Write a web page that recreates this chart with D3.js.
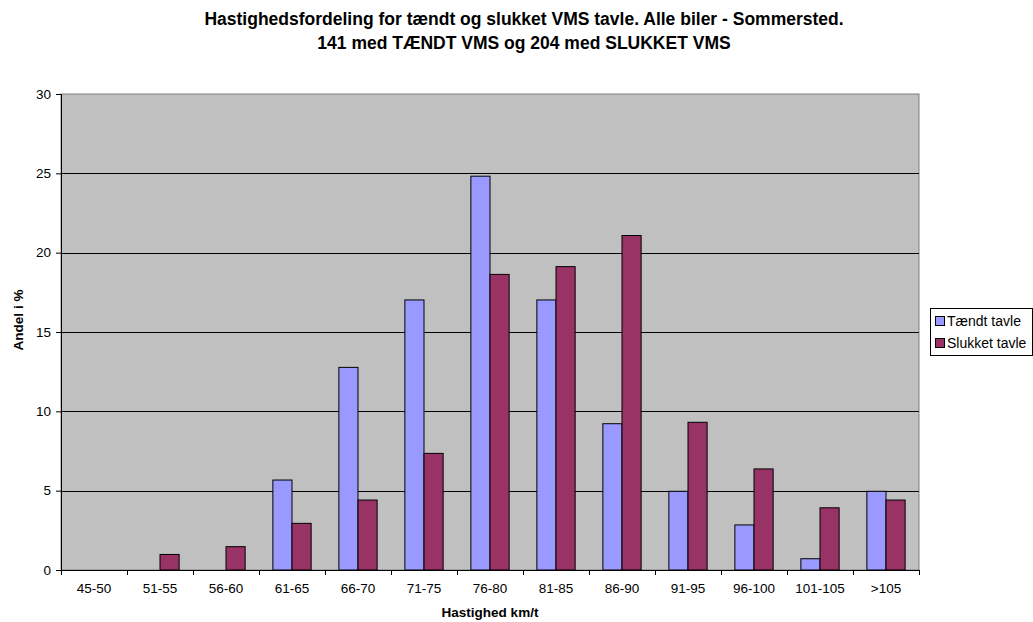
<!DOCTYPE html>
<html><head><meta charset="utf-8">
<script src="https://cdn.jsdelivr.net/npm/d3@7"></script>
<style>body{margin:0;background:#fff}svg{display:block}text{font-family:"Liberation Sans",Arial,sans-serif}</style>
</head><body>
<script>
const categories = ["45-50","51-55","56-60","61-65","66-70","71-75","76-80","81-85","86-90","91-95","96-100","101-105",">105"];
const taendt = [0,0,0,5.67,12.77,17.02,24.82,17.02,9.22,4.96,2.84,0.71,4.96];
const slukket = [0,0.98,1.47,2.94,4.41,7.35,18.63,19.12,21.08,9.31,6.37,3.92,4.41];
const seriesNames = ["Tændt tavle","Slukket tavle"];
const seriesColors = ["#9999FF","#993366"];
const yTicks = [0,5,10,15,20,25,30];
const title1 = "Hastighedsfordeling for tændt og slukket VMS tavle. Alle biler - Sommersted.";
const title2 = "141 med TÆNDT VMS og 204 med SLUKKET VMS";

const W=1033,H=622;
const svg=d3.select("body").append("svg").attr("width",W).attr("height",H);
const L=61,R=919,T=94,B=570;
const x=d3.scaleBand().domain(categories).range([L,R]).padding(0);
const y=d3.scaleLinear().domain([0,30]).range([B,T]);
const FF="Liberation Sans, Arial, sans-serif";

svg.append("rect").attr("x",L).attr("y",T).attr("width",R-L).attr("height",B-T).attr("fill","#C0C0C0").attr("stroke","#808080");
svg.append("g").selectAll("line").data(yTicks.filter(d=>d>0&&d<30)).join("line")
  .attr("x1",L).attr("x2",R).attr("y1",d=>Math.round(y(d))+0.5).attr("y2",d=>Math.round(y(d))+0.5).attr("stroke","#000");

const step=x.step(), bw=step*0.29, off=step*0.21;
const data=[taendt,slukket];
data.forEach((arr,s)=>{
  svg.append("g").selectAll("rect").data(arr.map((v,i)=>({v,c:categories[i]}))).join("rect")
    .attr("x",d=>x(d.c)+off+s*bw).attr("width",bw)
    .attr("y",d=>y(d.v)).attr("height",d=>B-y(d.v))
    .attr("fill",seriesColors[s]).attr("stroke",d=>d.v>0?"#000":"none").attr("stroke-width",1);
});

// axes
const yAxis=svg.append("g").attr("transform",`translate(${L},0)`)
  .call(d3.axisLeft(y).tickValues(yTicks).tickSize(5).tickPadding(5));
yAxis.select(".domain").attr("stroke","#000");
yAxis.selectAll("text").attr("font-size",13.5).attr("fill","#000").attr("font-family",FF);
const xAxis=svg.append("g").attr("transform",`translate(0,${B})`)
  .call(d3.axisBottom(x).tickSize(0).tickPadding(13));
xAxis.select(".domain").attr("stroke","#000");
xAxis.selectAll("text").attr("font-size",13.5).attr("fill","#000").attr("font-family",FF);
svg.append("g").selectAll("line").data(d3.range(categories.length+1)).join("line")
  .attr("x1",i=>Math.round(L+i*step)+0.5).attr("x2",i=>Math.round(L+i*step)+0.5)
  .attr("y1",B).attr("y2",B+5).attr("stroke","#000");

svg.append("text").attr("x",524).attr("y",25).attr("text-anchor","middle").attr("font-size",17.5).attr("font-weight","bold").text(title1);
svg.append("text").attr("x",524).attr("y",49).attr("text-anchor","middle").attr("font-size",17.5).attr("font-weight","bold").text(title2);
svg.append("text").attr("x",490).attr("y",617).attr("text-anchor","middle").attr("font-size",13.5).attr("font-weight","bold").text("Hastighed km/t");
svg.append("text").attr("transform","translate(23,320) rotate(-90)").attr("text-anchor","middle").attr("font-size",13.5).attr("font-weight","bold").text("Andel i %");

// legend
const lg=svg.append("g");
lg.append("rect").attr("x",930.5).attr("y",308.5).attr("width",102).attr("height",47).attr("fill","#fff").attr("stroke","#000");
seriesNames.forEach((n,i)=>{
  lg.append("rect").attr("x",935.5).attr("y",316.5+i*22).attr("width",9).attr("height",9).attr("fill",seriesColors[i]).attr("stroke","#000");
  lg.append("text").attr("x",947).attr("y",326+i*22).attr("font-size",14).text(n);
});
</script>
</body></html>
